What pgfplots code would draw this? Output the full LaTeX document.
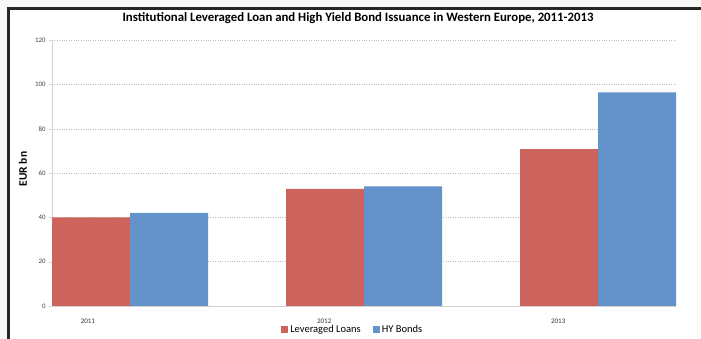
\documentclass[border=0pt]{standalone}
\usepackage{fontspec}
\setmainfont{Carlito}
\usepackage{pgfplots}
\pgfplotsset{compat=1.18}
\definecolor{llred}{RGB}{204,100,93}
\definecolor{hyblue}{RGB}{99,147,202}
\definecolor{gridc}{RGB}{195,185,185}
\definecolor{axc}{RGB}{215,208,208}
\begin{document}
\begin{tikzpicture}[x=1pt,y=1pt]
\useasboundingbox (0pt,0pt) rectangle (701pt,339pt);
\fill[gray!6] (0pt,0pt) rectangle (701pt,339pt);
\fill[white] (8.5pt,0pt) rectangle (701pt,330.5pt);
\draw[line width=3pt, black!85] (8.5pt,0pt) -- (8.5pt,330.5pt) -- (701pt,330.5pt);
\node[font=\bfseries\fontsize{12.8}{14}\selectfont] at (358pt,320.5pt) {Institutional Leveraged Loan and High Yield Bond Issuance in Western Europe, 2011-2013};
\node[rotate=90, font=\bfseries\fontsize{11.5}{13}\selectfont] at (23pt,170pt) {EUR bn};
\begin{axis}[
  at={(52pt,33pt)}, anchor=south west,
  scale only axis, width=624pt, height=265.7pt,
  ybar=0pt, bar width=78pt,
  xmin=-0.33333, xmax=2.33333, ymin=0, ymax=120,
  ytick={0,20,...,120},
  xtick={-0.18,0.83,1.83}, xticklabels={2011,2012,2013},
  ymajorgrids, grid style={dotted, gridc, line width=0.6pt},
  axis x line=bottom, axis y line=left,
  axis line style={-, axc, line width=0.8pt},
  tick align=outside, major tick length=3pt,
  ytick style={axc}, xtick style={draw=none},
  /pgf/number format/assume math mode=true,
  yticklabel style={font=\fontsize{6.8}{8}\selectfont, text=black!75},
  xticklabel style={font=\fontsize{7}{8}\selectfont, text=black!80, yshift=-6pt},
  legend style={at={(0.482,-0.087)}, anchor=center, draw=none, fill=none,
    legend columns=2, font=\fontsize{10.5}{12}\selectfont,
    /tikz/every even column/.append style={column sep=10pt}},
]
\addplot[fill=llred, draw=none, legend image code/.code={\fill[llred] (0pt,-3.5pt) rectangle (7pt,3.5pt);}] coordinates {(0,40) (1,52.9) (2,70.8)};
\addplot[fill=hyblue, draw=none, legend image code/.code={\fill[hyblue] (0pt,-3.5pt) rectangle (7pt,3.5pt);}] coordinates {(0,42.1) (1,54.0) (2,96.5)};
\legend{Leveraged Loans, HY Bonds}
\end{axis}
\end{tikzpicture}
\end{document}
